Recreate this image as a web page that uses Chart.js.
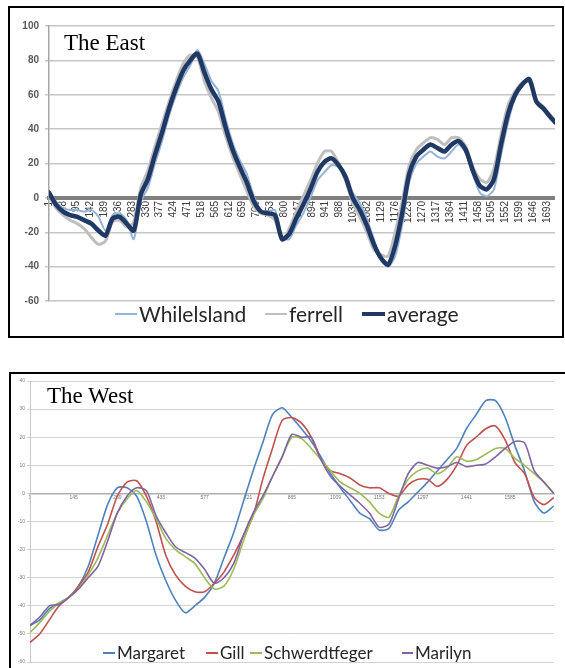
<!DOCTYPE html>
<html><head><meta charset="utf-8">
<script src="https://cdn.jsdelivr.net/npm/chart.js@4.4.1/dist/chart.umd.min.js"></script>
<style>
html,body{margin:0;padding:0;background:#fff;width:565px;height:668px;overflow:hidden;}
.box{position:absolute;border:2px solid #000;box-sizing:border-box;}
canvas{position:absolute;}
.title{position:absolute;font-family:'Liberation Serif','Times New Roman',serif;font-size:23px;line-height:23px;color:#000;white-space:nowrap;}
.leg{position:absolute;display:flex;align-items:center;font-family:Lato,'Liberation Sans',sans-serif;color:#262626;white-space:nowrap;}
.leg i{display:inline-block;margin-right:2px;}
</style></head>
<body>
<div class="box" style="left:8px;top:6px;width:556px;height:332px;"></div>
<canvas id="east" width="552" height="328" style="left:10px;top:8px;"></canvas>
<div class="title" style="left:64px;top:31px;">The East</div>
<div id="eastLegend"></div>

<div class="box" style="left:9px;top:372px;width:600px;height:330px;"></div>
<canvas id="west" width="554" height="294" style="left:11px;top:374px;"></canvas>
<div class="title" style="left:47px;top:384px;">The West</div>
<div id="westLegend"></div>

<script>
// ---------- The East ----------
const eastX = [1,25,49,73,97,121,145,169,193,217,241,265,289,313,337,361,385,409,433,457,481,505,529,553,577,601,625,649,673,697,721,745,769,793,817,841,865,889,913,937,961,985,1009,1033,1057,1081,1105,1129,1153,1177,1201,1225,1249,1273,1297,1321,1345,1369,1393,1417,1441,1465,1489,1513,1537,1561,1585,1609,1633,1657,1681,1705,1721];
const eastWhilelsland = [4,-2,-6,-7,-7,-8,-7,-11,-19,-10,-9,-13,-24,-2,6,20,33,48,60,70,77,86,78,68,62,46,32,22,14,1,-7,-8,-7,-23,-24,-16,-9,0,10,15,19,18,14,3,-3,-12,-24,-36,-40,-34,-16,9,20,24,27,24,23,27,31,26,14,3,1,5,25,44,58,65,70,55,51,46,43];
const eastFerrell = [2,-6,-10,-13,-15,-18,-23,-27,-25,-14,-13,-17,-14,6,16,30,43,56,68,78,83,82,68,58,50,36,24,14,4,-5,-9,-10,-13,-25,-18,-8,1,10,20,27,27,20,10,-3,-11,-20,-30,-33,-34,-20,-2,19,28,32,35,34,31,35,35,30,18,11,9,17,37,54,62,67,68,57,53,48,45];
const eastAverage = [3,-4,-8,-10,-11,-13,-15,-19,-22,-12,-11,-15,-19,2,11,25,38,52,64,74,80,84,73,63,56,41,28,18,9,-2,-8,-9,-10,-24,-21,-12,-4,5,15,21,23,19,12,0,-7,-16,-27,-35,-39,-28,-9,14,24,28,31,29,27,31,33,28,16,7,5,11,31,49,60,66,69,56,52,47,44];
const eastTicks = [1,48,95,142,189,236,283,330,377,424,471,518,565,612,659,706,753,800,847,894,941,988,1035,1082,1129,1176,1223,1270,1317,1364,1411,1458,1505,1552,1599,1646,1693];
const eastNames = ['Whilelsland','ferrell','average'];

// ---------- The West ----------
const westX = [1,33,65,97,129,161,193,225,257,289,321,353,385,417,449,481,513,545,577,609,641,673,705,737,769,801,833,865,897,929,961,993,1025,1057,1089,1121,1153,1185,1217,1249,1281,1313,1345,1377,1409,1441,1473,1505,1537,1569,1601,1633,1665,1697,1729];
const westMargaret = [-47,-45,-41,-39,-37,-33,-26,-15,-4,2,2,-1,-10,-22,-31,-38,-42.5,-40,-37,-32,-23,-14,-3,8,18,28,30.5,27,23,18.5,13,7,2,-2.5,-7,-9,-13,-12.5,-6,-3,0.5,4,8,12,16,23,28,33,33,27,17,8,-3,-7,-4.5];
const westGill = [-53,-50,-45,-40,-37,-33,-28,-19,-11,-1,4,4.5,-1,-10,-22,-29,-33,-35,-35,-32,-28,-22,-15,-8,5,16,26,27,25,20,12,8,7,5.5,3,2,2,0,-1,3,5,5,2.5,5,10,17,20,23,24,19,11,7,-1.5,-4,-1.5];
const westSchwerdtfeger = [-49.5,-46,-42,-39,-37,-34,-29,-23,-15,-7,-2,1,-3,-9,-16,-20,-22.5,-25,-30,-34,-33,-27,-17,-8,-2,6,13,20,19.5,16,12,8,4,2,0,-3,-7,-8.5,-1,5,8,9,7,9,13,11.5,12,14,16,16,12.5,10,7,4,0];
const westMarilyn = [-47,-44,-40,-39.5,-37,-34,-30,-26,-17,-7,-1,2,1,-8,-14,-19,-21,-23,-27,-32,-30,-25,-15,-7,-1,6,13,21,20,20,12,6,2.5,-0.5,-3.5,-7,-12,-11,-2,7,11,10,9,9.5,11,9.5,10,10.5,13,16,18.5,18,8,4,0];
const westTicks = [1,145,289,433,577,721,865,1009,1153,1297,1441,1585];
const westNames = ['Margaret','Gill','Schwerdtfeger','Marilyn'];

Chart.defaults.font.family = "'Liberation Sans', Arial, sans-serif";

function pts(xs, ys){ return xs.map((x,i)=>({x:x, y:ys[i]})); }

const eastColors = ['#95b3d7','#bfbfbf','#1f3864'];
const eastWidths = [2,3,4.5];
const eastSeries = [eastWhilelsland, eastFerrell, eastAverage];
const eastOrder = [1,2,0];

new Chart(document.getElementById('east'), {
  type:'line',
  data:{datasets: eastSeries.map((s,i)=>({
    label:eastNames[i], data:pts(eastX,s), borderColor:eastColors[i], backgroundColor:eastColors[i],
    borderWidth:eastWidths[i], order:eastOrder[i], fill:false
  }))},
  options:{
    responsive:false, animation:false, events:[],
    layout:{padding:{left:0, top:18, right:3, bottom:35}},
    elements:{point:{radius:0}, line:{tension:0.25, borderCapStyle:'round', borderJoinStyle:'round'}},
    plugins:{legend:{display:false}, tooltip:{enabled:false}},
    scales:{
      x:{type:'linear', min:1, max:1720, position:{y:0},
        afterBuildTicks:s=>{ s.ticks = eastTicks.map(v=>({value:v})); },
        afterFit:s=>{ s.height = 0; },
        grid:{display:false, tickLength:0}, border:{display:true, color:'#7f7f7f', width:4},
        ticks:{autoSkip:false, minRotation:90, maxRotation:90, padding:3, font:{size:10}, color:'#3a3a3a', callback:v=>String(v)}},
      y:{min:-60, max:100,
        afterFit:s=>{ s.width = 39; },
        ticks:{stepSize:20, font:{size:10, weight:'bold'}, color:'#595959', padding:6},
        grid:{color:'#c6c6c6', lineWidth:1.5, tickLength:4},
        border:{color:'#a6a6a6', width:1.5}}
    }
  }
});

const westColors = ['#4f81bd','#c0504d','#9bbb59','#8064a2'];
const westSeries = [westMargaret, westGill, westSchwerdtfeger, westMarilyn];
new Chart(document.getElementById('west'), {
  type:'line',
  data:{datasets: westSeries.map((s,i)=>({
    label:westNames[i], data:pts(westX,s), borderColor:westColors[i], backgroundColor:westColors[i],
    borderWidth:1.6, order:3-i, fill:false
  }))},
  options:{
    responsive:false, animation:false, events:[],
    layout:{padding:{left:0, top:7, right:11, bottom:6}},
    elements:{point:{radius:0}, line:{tension:0.25}},
    plugins:{legend:{display:false}, tooltip:{enabled:false}},
    scales:{
      x:{type:'linear', min:1, max:1730, position:{y:0},
        afterBuildTicks:s=>{ s.ticks = westTicks.map(v=>({value:v})); },
        afterFit:s=>{ s.height = 0; },
        grid:{display:false, tickLength:0}, border:{display:true, color:'#b0b0b0', width:1.5},
        ticks:{autoSkip:false, minRotation:0, maxRotation:0, padding:1, font:{size:5}, color:'#777', callback:v=>String(v)}},
      y:{min:-60, max:40,
        afterFit:s=>{ s.width = 19; },
        ticks:{stepSize:10, font:{size:5}, color:'#808080', padding:2},
        grid:{color:'#d4d4d4', lineWidth:1, tickLength:3},
        border:{color:'#c8c8c8', width:1}}
    }
  }
});

// ---------- legends (HTML text) ----------
function legend(id, names, colors, lefts, top, fontSize, lineWs, lineHs){
  const host = document.getElementById(id);
  names.forEach((n,i)=>{
    const d = document.createElement('div');
    d.className = 'leg';
    d.style.left = lefts[i]+'px'; d.style.top = top+'px';
    d.style.fontSize = fontSize+'px'; d.style.height = (fontSize+4)+'px';
    const l = document.createElement('i');
    l.style.width = lineWs[i]+'px'; l.style.height = lineHs[i]+'px'; l.style.background = colors[i];
    d.appendChild(l);
    d.appendChild(document.createTextNode(n));
    host.appendChild(d);
  });
}
legend('eastLegend', eastNames, eastColors, [115,265,362], 301, 21, [22,22,23], [2,2,4]);
legend('westLegend', westNames, westColors, [103,206,250,402], 642, 17, [12,12,12,11], [2,2,2,2]);
</script>
</body></html>
